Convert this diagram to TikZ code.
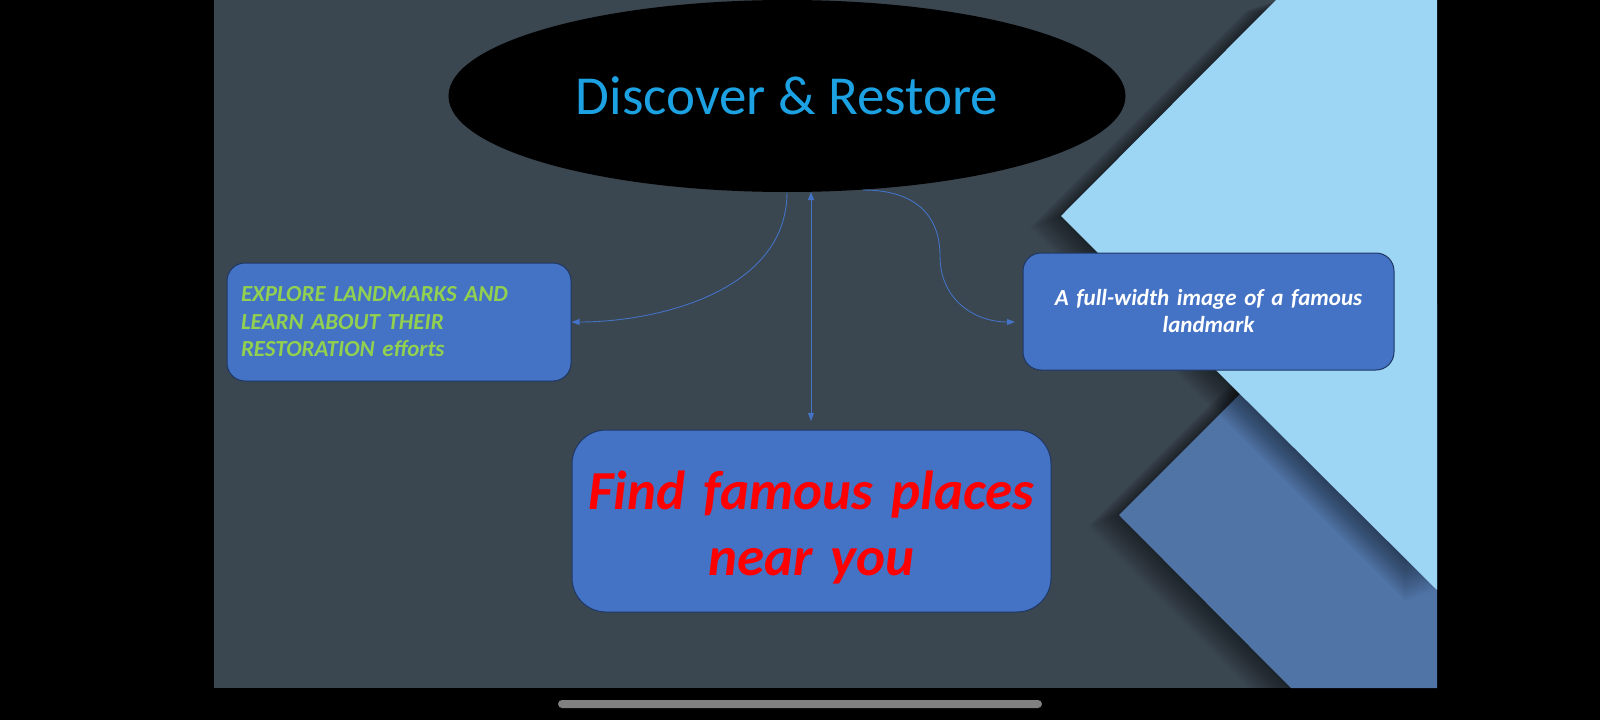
\documentclass[tikz,border=0pt]{standalone}
\usepackage{fontspec}
\setmainfont{Carlito}
\usetikzlibrary{shapes.geometric,arrows.meta}
\definecolor{slate}{RGB}{58,70,80}
\definecolor{lightblue}{RGB}{157,213,245}
\definecolor{midblue}{RGB}{80,116,166}
\definecolor{boxfill}{RGB}{68,114,196}
\definecolor{boxborder}{RGB}{31,56,100}
\definecolor{linkblue}{RGB}{68,114,196}
\definecolor{titlecyan}{RGB}{28,161,226}
\definecolor{textgreen}{RGB}{146,208,80}
\definecolor{bargray}{RGB}{128,128,128}
\begin{document}
\begin{tikzpicture}[x=1pt,y=-1pt,
  box/.style={draw=boxborder, fill=boxfill, line width=1pt, rounded corners=18pt},
  conn/.style={draw=linkblue, line width=0.9pt},
  tip/.style={-{Triangle[length=8pt,width=6pt]}},
  bothtips/.style={{Triangle[length=8pt,width=6pt]}-{Triangle[length=8pt,width=6pt]}},
  shade/.style={fill=black, opacity=0.035}
]
\useasboundingbox (0,0) rectangle (1600,720);
\fill[black] (0,0) rectangle (1600,720);
\begin{scope}
  \clip (214,0) rectangle (1437,688);
  \fill[slate] (214,0) rectangle (1437,688);
  % medium blue band with soft shadow
  \foreach \i in {1,...,14}
    \fill[shade, shift={(-\i*2.2,\i*0.8)}] (1119,515) -- (1330,304) -- (1437,304) -- (1437,688) -- (1291,688) -- cycle;
  \fill[midblue] (1119,515) -- (1330,304) -- (1437,304) -- (1437,688) -- (1291,688) -- cycle;
  % light blue band with soft shadow
  \foreach \i in {1,...,14}
    \fill[shade, shift={(-\i*2.2,\i*0.8)}] (1276,0) -- (1437,0) -- (1437,590) -- (1061,216) -- cycle;
  \fill[lightblue] (1276,0) -- (1437,0) -- (1437,590) -- (1061,216) -- cycle;
  % title ellipse
  \node[ellipse, fill=black, minimum width=677pt, minimum height=192pt, inner sep=0pt,
        text=titlecyan, font=\fontsize{55}{66}\selectfont] (ell) at (787,96) {Discover \& Restore};
\end{scope}

\node[box, minimum width=344pt, minimum height=118pt, text width=316pt, inner xsep=14pt,
      align=left, text=textgreen, font=\bfseries\itshape\fontsize{23}{27.5}\selectfont]
  (lb) at (399,322) {EXPLORE LANDMARKS AND\\LEARN ABOUT THEIR\\RESTORATION efforts};

\node[box, minimum width=371pt, minimum height=117pt, text width=340pt, inner xsep=4pt,
      align=center, text=white, font=\bfseries\itshape\fontsize{23}{27}\selectfont]
  (rb) at (1208.5,311.5) {A full-width image of a famous\\landmark};

\node[box, rounded corners=34pt, minimum width=479pt, minimum height=182pt, text width=470pt,
      inner xsep=4pt, align=center, text=red, font=\bfseries\itshape\fontsize{55}{66}\selectfont]
  (bb) at (811.5,521) {\rule{0pt}{52pt}Find famous places\\near you};

% connectors
\coordinate (rstart) at (863,190);
\coordinate (rend) at (1015,322);
\coordinate (vtop) at (811,192);
\coordinate (vbot) at (811,421);
\draw[conn,tip] (ell.south) .. controls (787,290) and (660,322) .. (lb.east);
\draw[conn,tip] (rstart) .. controls (915,190) and (940,215) .. (940,256)
                 .. controls (940,300) and (975,322) .. (rend);
\draw[conn,bothtips] (vtop) -- (vbot);

% home indicator bar
\fill[bargray, rounded corners=4pt] (558,700) rectangle (1042,708);
\end{tikzpicture}
\end{document}
